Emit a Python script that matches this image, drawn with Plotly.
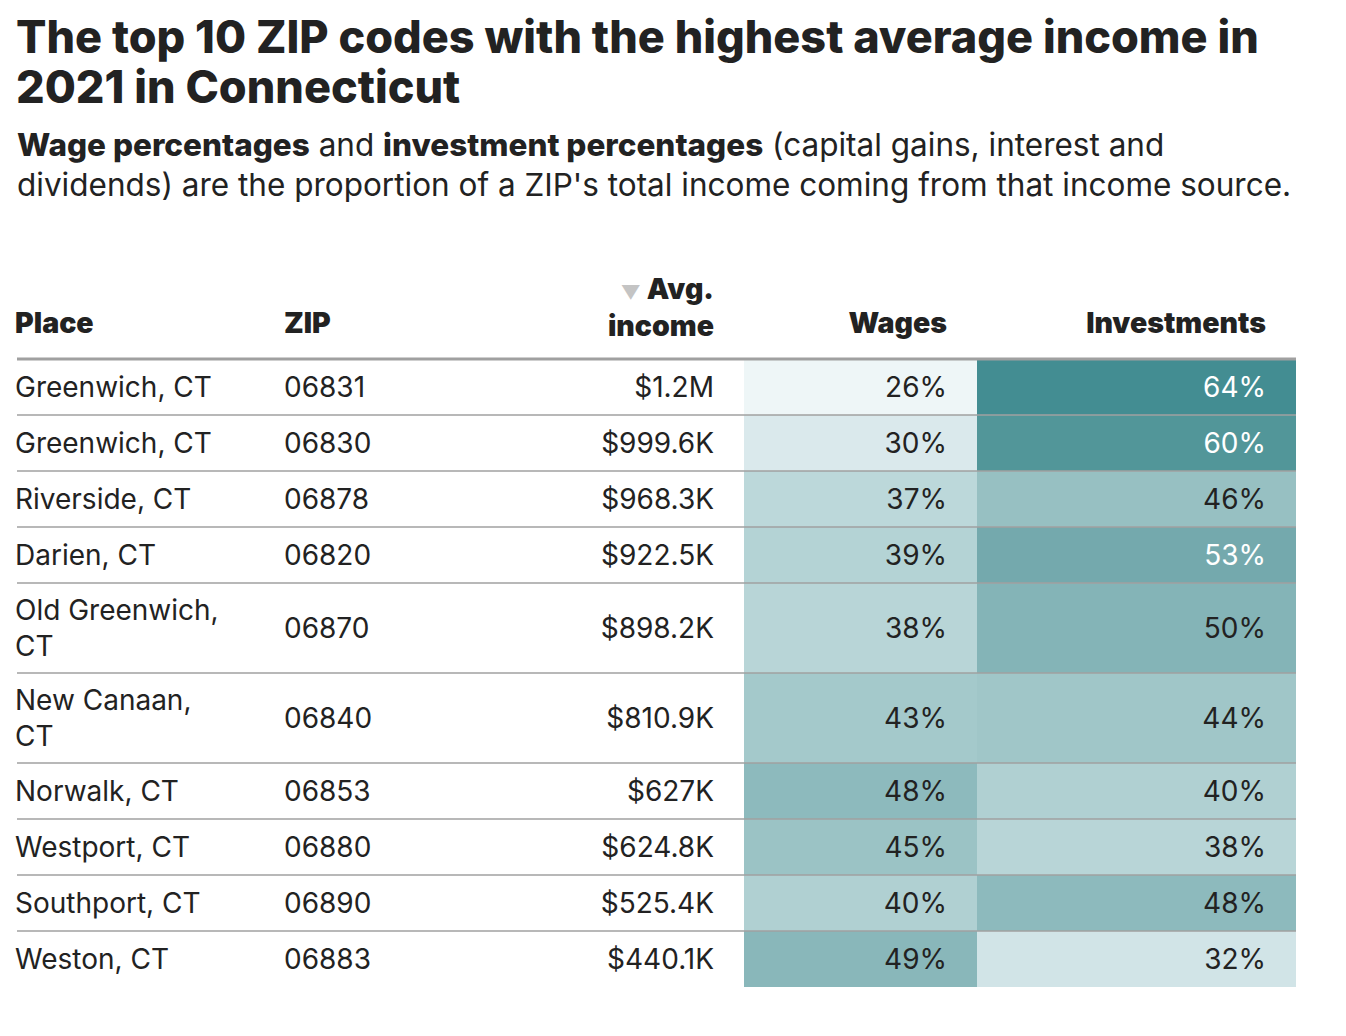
import plotly.graph_objects as go

places = ["Greenwich, CT", "Greenwich, CT", "Riverside, CT", "Darien, CT", "Old Greenwich, CT",
          "New Canaan, CT", "Norwalk, CT", "Westport, CT", "Southport, CT", "Weston, CT"]
zips = ["06831", "06830", "06878", "06820", "06870", "06840", "06853", "06880", "06890", "06883"]
avg_income = [1_200_000, 999_600, 968_300, 922_500, 898_200, 810_900, 627_000, 624_800, 525_400, 440_100]
wages_pct = [26, 30, 37, 39, 38, 43, 48, 45, 40, 49]
invest_pct = [64, 60, 46, 53, 50, 44, 40, 38, 48, 32]

headers = ["Place", "ZIP",
           "<span style='color:#c4c4c4;font-size:19px'>▼</span> Avg.<br>income",
           "Wages", "Investments"]

TITLE = ["The top 10 ZIP codes with the highest average income in", "2021 in Connecticut"]
B = "<span style='font-weight:800'>"
SUBTITLE = [f"{B}Wage percentages</span> and {B}investment percentages</span> (capital gains, interest and",
            "dividends) are the proportion of a ZIP's total income coming from that income source."]

# ---------------- layout constants (pixels on the page) ----------------
W, H = 1346, 1036
LEFT, RIGHT = 17, 1296
X_PLACE, X_ZIP, X_INCOME_R = 17, 286, 712
X_WAGES = [744, 977]
X_INV = [977, 1296]
PAD_R = 32
HEADER_LINE_Y = 359
ROW_H, LINE_H = 56, 34
TEXT_DY = 3         # optical nudge: plotly centres text a bit high
TXT = "#222222"
GRID = "#a0a0a0"
FONT = "Inter"


def fmt_money(v):
    if v >= 1_000_000:
        return f"${v / 1_000_000:.1f}M"
    s = f"{v / 1000:.1f}"
    if s.endswith(".0"):
        s = s[:-2]
    return f"${s}K"


def wrap_place(name):
    # narrow column: long names break after the comma
    return name.replace(", ", ",<br>") if len(name) > 13 else name


place_txt = [wrap_place(p) for p in places]
n_lines = [t.count("<br>") + 1 for t in place_txt]
edges = [HEADER_LINE_Y]
for n in n_lines:
    edges.append(edges[-1] + ROW_H + LINE_H * (n - 1))
centers = [(a + b) / 2 + TEXT_DY for a, b in zip(edges[:-1], edges[1:])]

# colour scale shared by both percentage columns
vmin, vmax = 26, 64
stops = [(26, "#eef6f7"), (30, "#dae9ec"), (37, "#bcd8da"), (44, "#a0c6c8"),
         (50, "#84b4b7"), (53, "#74a9ad"), (60, "#529699"), (64, "#438d92")]
colorscale = [[(v - vmin) / (vmax - vmin), c] for v, c in stops]

fig = go.Figure()

fig.add_trace(go.Heatmap(
    x=[X_WAGES[0], X_WAGES[1], X_INV[1]], y=edges,
    z=[[w, i] for w, i in zip(wages_pct, invest_pct)],
    zmin=vmin, zmax=vmax, colorscale=colorscale, showscale=False, hoverinfo="skip",
))

# row separators
lx, ly = [], []
for y in edges[1:-1]:
    lx += [LEFT, RIGHT, None]
    ly += [y, y, None]
fig.add_trace(go.Scatter(x=lx, y=ly, mode="lines", line=dict(color=GRID, width=1.6), hoverinfo="skip"))
fig.add_trace(go.Scatter(x=[LEFT, RIGHT], y=[HEADER_LINE_Y, HEADER_LINE_Y], mode="lines",
                         line=dict(color=GRID, width=3.2), hoverinfo="skip"))


def text_col(x, texts, pos, colors=TXT):
    fig.add_trace(go.Scatter(
        x=[x] * len(texts), y=centers, mode="text", text=texts, textposition=pos,
        textfont=dict(family=FONT, size=28, color=colors), hoverinfo="skip",
    ))


text_col(X_PLACE - 2, place_txt, "middle right")
text_col(X_ZIP - 2, zips, "middle right")
text_col(X_INCOME_R + 2, [fmt_money(v) for v in avg_income], "middle left")
text_col(X_WAGES[1] - PAD_R + 2, [f"{v}%" for v in wages_pct], "middle left",
         ["white" if v >= 53 else TXT for v in wages_pct])
text_col(X_INV[1] - PAD_R + 2, [f"{v}%" for v in invest_pct], "middle left",
         ["white" if v >= 53 else TXT for v in invest_pct])

# header row
HEAD_Y = 323 + TEXT_DY
head_x = [X_PLACE - 2, X_ZIP - 2, X_INCOME_R + 2, X_WAGES[1] - PAD_R + 2, X_INV[1] - PAD_R + 2]
head_pos = ["middle right", "middle right", "middle left", "middle left", "middle left"]
head_y = [HEAD_Y, HEAD_Y, HEAD_Y - 16, HEAD_Y, HEAD_Y]
fig.add_trace(go.Scatter(
    x=head_x, y=head_y, mode="text", text=headers, textposition=head_pos,
    textfont=dict(family=FONT, size=28.5, color=TXT, weight=900), hoverinfo="skip",
))

# title: one text block; base size sets the tight 50px line pitch, inner span sets glyph size
title_txt = "<br>".join(f"<span style='font-size:45px'>{t}</span>" for t in TITLE)
annotations = [dict(x=LEFT - 3, y=61, text=title_txt, showarrow=False, align="left",
                    xanchor="left", yanchor="middle", xref="x", yref="y",
                    font=dict(family=FONT, size=38.5, color=TXT, weight=800))]
for k, line in enumerate(SUBTITLE):
    annotations.append(dict(x=LEFT - 2, y=144 + 40 * k, text=line, showarrow=False,
                            xanchor="left", yanchor="middle", xref="x", yref="y",
                            font=dict(family=FONT, size=31.5, color=TXT)))

fig.update_layout(
    width=W, height=H, margin=dict(l=0, r=0, t=0, b=0),
    paper_bgcolor="white", plot_bgcolor="white", showlegend=False,
    xaxis=dict(range=[0, W], visible=False, fixedrange=True),
    yaxis=dict(range=[H, 0], visible=False, fixedrange=True),
    annotations=annotations,
)

# drop the browser's default 8px body margin so page pixels == axis units
fig.write_html("out.html", config={"displayModeBar": False},
               post_script="document.body.style.margin='0';")
